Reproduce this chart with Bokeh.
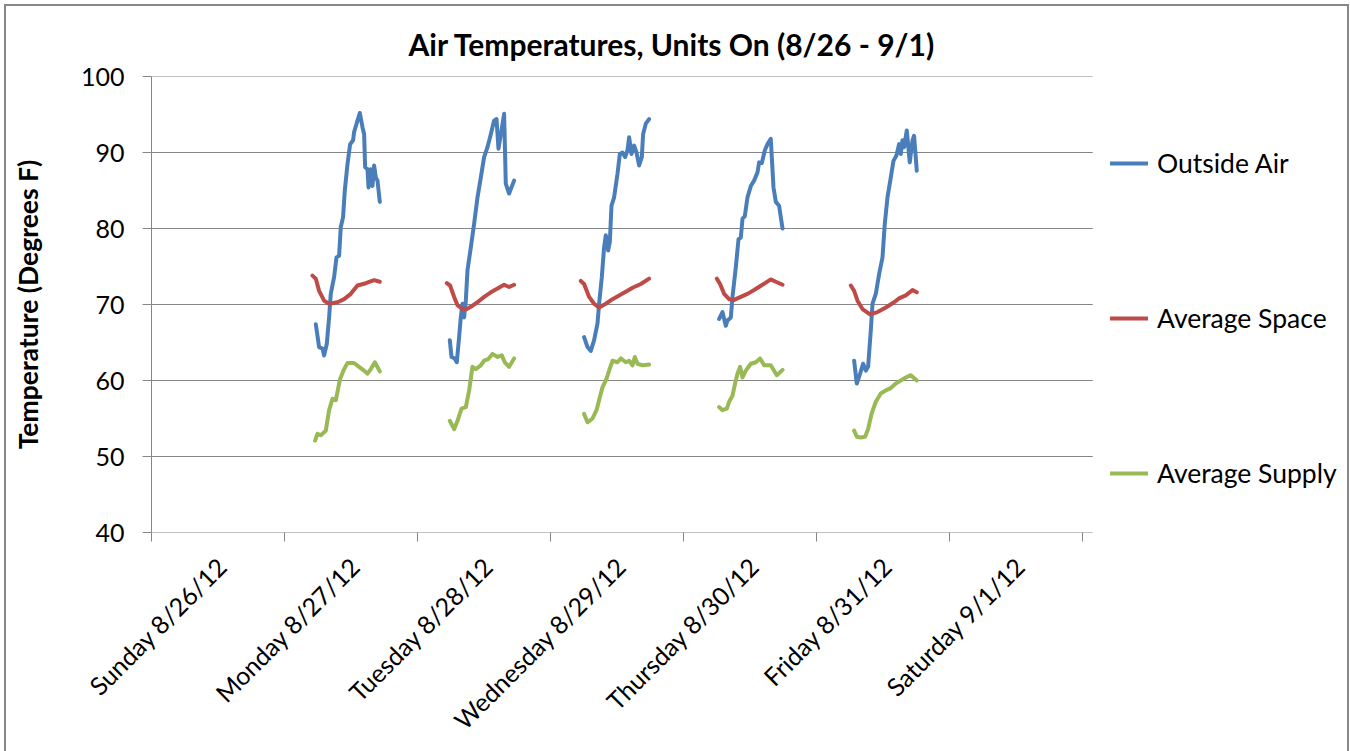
import math
from bokeh.plotting import figure
from bokeh.models import FixedTicker, Legend, LegendItem, Range1d
from bokeh.embed import file_html
from bokeh.resources import INLINE

TITLE = "Air Temperatures, Units On (8/26 - 9/1)"
Y_LABEL = "Temperature (Degrees F)"
DAY_LABELS = ["Sunday 8/26/12", "Monday 8/27/12", "Tuesday 8/28/12",
              "Wednesday 8/29/12", "Thursday 8/30/12", "Friday 8/31/12",
              "Saturday 9/1/12"]
Y_TICKS = [40, 50, 60, 70, 80, 90, 100]
SERIES_NAMES = ["Outside Air", "Average Space", "Average Supply"]

# hours since Sunday 8/26/12 00:00
outside_air_hours = [
    29.65, 30.24, 30.86, 31.15, 31.63, 32.05, 32.35, 32.95, 33.38, 33.85, 34.16, 34.57, 34.88,
    35.37, 35.84, 36.38, 36.56, 37.17, 37.59, 38.08, 38.37, 38.55, 38.98, 39.16, 39.57, 39.88,
    40.17, 40.48, 40.78, 41.20,
    53.83, 54.14, 54.73, 55.09, 55.51, 55.81, 56.12, 56.41, 56.72, 57.02, 57.62, 58.21, 58.83,
    59.42, 60.02, 60.63, 61.23, 61.82, 62.26, 62.61, 63.16, 63.63, 63.93, 64.53, 65.43,
    78.06, 78.68, 79.27, 79.87, 80.48, 80.77, 81.26, 81.67, 81.98, 82.40, 82.70, 83.01, 83.48,
    84.09, 84.51, 84.99, 85.46, 85.89, 86.19, 86.62, 87.09, 87.52, 87.99, 88.48, 88.71, 89.20,
    89.79,
    102.43, 103.04, 103.63, 103.94, 104.54, 104.84, 105.44, 105.93, 106.34, 106.65, 107.06,
    107.55, 108.15, 108.74, 109.36, 109.65, 110.13, 110.68, 111.16, 111.75, 112.24, 112.66,
    113.25, 113.87,
    126.79, 127.27, 127.87, 128.41, 128.90, 129.31, 129.80, 130.11, 130.70, 131.30, 131.91,
    132.32, 132.81, 133.40, 133.89, 134.43, 134.90, 135.21, 135.51, 135.80, 136.29, 136.83,
    137.32, 137.61, 138.10,
]
outside_air_temp = [
    67.4, 64.4, 64.2, 63.3, 64.8, 68.3, 71.4, 73.6, 76.2, 76.4, 80.2, 81.5, 85.0,
    88.5, 91.1, 91.6, 92.7, 94.2, 95.2, 93.3, 92.4, 88.1, 87.8, 85.4, 87.8, 85.6,
    88.3, 86.7, 86.3, 83.5,
    65.3, 63.1, 62.9, 62.4, 65.7, 68.3, 70.1, 68.3, 70.5, 74.5, 77.5, 80.6, 84.1,
    86.7, 89.4, 90.7, 92.4, 94.2, 94.4, 90.5, 92.9, 95.1, 85.9, 84.6, 86.3,
    65.7, 64.4, 63.9, 65.3, 67.5, 70.1, 73.6, 77.5, 79.1, 77.1, 78.2, 83.0, 84.1,
    87.2, 89.8, 90.0, 89.4, 90.3, 92.0, 89.8, 90.9, 90.0, 88.3, 89.4, 92.4, 93.8,
    94.4,
    68.1, 69.0, 67.2, 67.9, 68.3, 71.0, 74.9, 78.6, 78.8, 81.3, 81.6,
    84.1, 85.6, 86.3, 87.4, 88.7, 88.6, 90.3, 91.1, 91.8, 85.4, 83.5,
    83.0, 80.0,
    62.6, 59.6, 60.9, 62.2, 61.3, 61.8, 66.6, 70.1, 71.4, 74.0, 76.2,
    80.6, 84.1, 86.7, 88.9, 89.6, 91.1, 89.8, 91.6, 90.7, 92.9, 88.7,
    91.6, 92.2, 87.6,
]

average_space_hours = [
    29.05, 29.65, 30.24, 31.15, 32.05, 33.56, 34.76, 35.96, 37.17, 38.67, 40.17, 41.20,
    53.29, 53.88, 54.61, 55.22, 56.12, 56.90, 57.62, 58.83, 60.02, 61.23, 62.44, 63.63,
    64.53, 65.43,
    77.47, 78.06, 78.97, 79.87, 80.77, 81.98, 83.19, 84.69, 85.89, 86.80, 88.30, 89.79,
    102.01, 102.60, 103.33, 104.23, 105.13, 106.34, 107.55, 108.74, 110.25, 111.75, 112.66,
    113.87,
    126.19, 126.79, 127.40, 128.30, 129.67, 131.01, 132.51, 134.01, 134.90, 136.11, 137.32,
    138.10,
]
average_space_temp = [
    73.8, 73.4, 71.8, 70.5, 70.1, 70.3, 70.7, 71.4, 72.5, 72.8, 73.2, 73.0,
    72.8, 72.5, 71.0, 69.9, 69.4, 69.4, 69.7, 70.3, 71.0, 71.6, 72.1, 72.6,
    72.3, 72.6,
    73.1, 72.7, 71.0, 70.1, 69.6, 70.1, 70.7, 71.3, 71.8, 72.2, 72.7, 73.4,
    73.4, 72.7, 71.4, 70.7, 70.6, 71.0, 71.4, 71.9, 72.6, 73.3, 73.0,
    72.6,
    72.5, 71.8, 70.5, 69.4, 68.7, 69.0, 69.6, 70.3, 70.8, 71.2, 71.9,
    71.6,
]

average_supply_hours = [
    29.52, 29.95, 30.55, 31.45, 32.05, 32.66, 33.26, 34.03, 34.76, 35.37, 36.56, 37.46,
    38.37, 38.98, 39.57, 40.30, 41.20,
    53.83, 54.61, 55.22, 55.94, 56.72, 57.32, 57.92, 58.52, 59.42, 60.02, 60.74, 61.53,
    62.44, 63.21, 63.75, 64.53, 65.43,
    78.06, 78.68, 79.58, 80.30, 80.77, 81.38, 82.10, 82.57, 83.19, 84.09, 84.69, 85.59,
    86.19, 86.80, 87.21, 87.70, 88.60, 89.79,
    102.43, 103.04, 103.81, 104.23, 104.84, 105.31, 105.74, 106.22, 106.65, 107.24, 108.15,
    109.05, 109.82, 110.55, 111.75, 112.84, 113.87,
    126.79, 127.27, 127.99, 128.77, 129.31, 129.93, 130.70, 131.60, 132.51, 133.40, 134.31,
    135.21, 136.11, 137.02, 138.10,
]
average_supply_temp = [
    52.1, 53.0, 52.8, 53.4, 56.1, 57.6, 57.4, 60.2, 61.5, 62.3, 62.3, 61.8,
    61.3, 60.9, 61.5, 62.4, 61.2,
    54.7, 53.6, 54.7, 56.3, 56.5, 58.7, 61.8, 61.5, 62.0, 62.6, 62.8, 63.5,
    63.1, 63.3, 62.4, 61.8, 62.9,
    55.6, 54.5, 55.0, 56.1, 57.4, 59.1, 60.2, 61.3, 62.6, 62.4, 62.9, 62.4,
    62.6, 62.0, 63.1, 62.2, 62.0, 62.1,
    56.5, 56.1, 56.3, 57.2, 58.0, 59.6, 60.9, 61.8, 60.4, 61.3, 62.2,
    62.4, 62.9, 62.0, 62.0, 60.7, 61.4,
    53.4, 52.6, 52.5, 52.6, 53.6, 55.6, 57.2, 58.3, 58.7, 59.0, 59.6,
    60.0, 60.4, 60.7, 60.0,
]

COLORS = ["#4A7EBB", "#BE4B48", "#98B954"]
FONT = "Lato"
GRAY = "#868686"
N_DAYS = len(DAY_LABELS)
GRID_END = 7.077          # plot area ends slightly past the last day boundary
X_VIEW_END = 8.9925       # extra room on the right for the legend


def split_days(hours, temps):
    """Convert hours to days and break the line between separate days."""
    xs, ys = [], []
    prev = None
    for h, t in zip(hours, temps):
        if prev is not None and h - prev > 6:
            xs.append(float("nan"))
            ys.append(float("nan"))
        xs.append(h / 24.0)
        ys.append(t)
        prev = h
    return xs, ys


p = figure(width=1341, height=745, output_backend="svg", toolbar_location=None,
           x_range=Range1d(0, X_VIEW_END), y_range=Range1d(40, 100),
           min_border_left=145, min_border_right=0, min_border_top=70,
           min_border_bottom=219,
           styles={"margin-left": "6px", "margin-top": "6px", "margin-bottom": "-10px",
                   "outline": "2px solid #878787"})
p.outline_line_color = None
p.background_fill_color = "white"
p.border_fill_color = "white"

p.title.text = TITLE
p.title.align = "left"
p.title.offset = 257
p.title.text_font = FONT
p.title.text_font_style = "bold"
p.title.text_font_size = "30px"
p.title.text_color = "black"
p.title.standoff = 30

# horizontal gridlines (the lowest one doubles as the x axis line)
p.segment(x0=[0] * len(Y_TICKS), x1=[GRID_END] * len(Y_TICKS), y0=Y_TICKS, y1=Y_TICKS,
          line_color=GRAY, line_width=1)

renderers = []
for hrs, tmp, col in [(outside_air_hours, outside_air_temp, COLORS[0]),
                      (average_space_hours, average_space_temp, COLORS[1]),
                      (average_supply_hours, average_supply_temp, COLORS[2])]:
    xs, ys = split_days(hrs, tmp)
    r = p.line(xs, ys, line_color=col, line_width=4, line_join="round", line_cap="round")
    renderers.append(r)

# x axis: tick marks at day boundaries, labels near the centre of each day
label_pos = [i + 0.53 for i in range(N_DAYS)]
xax = p.xaxis[0]
xax.ticker = FixedTicker(ticks=label_pos, minor_ticks=list(range(N_DAYS + 1)))
xax.major_label_overrides = {pos: lab for pos, lab in zip(label_pos, DAY_LABELS)}
xax.major_tick_line_color = None
xax.minor_tick_line_color = GRAY
xax.minor_tick_out = 9
xax.minor_tick_in = 0
xax.axis_line_color = None
xax.major_label_orientation = math.pi / 4
xax.major_label_text_font = FONT
xax.major_label_text_font_size = "25px"
xax.major_label_text_color = "black"
xax.major_label_standoff = 20

yax = p.yaxis[0]
yax.ticker = FixedTicker(ticks=Y_TICKS)
yax.axis_line_color = GRAY
yax.major_tick_line_color = GRAY
yax.major_tick_out = 9
yax.major_tick_in = 0
yax.minor_tick_line_color = None
yax.major_label_text_font = FONT
yax.major_label_text_font_size = "25px"
yax.major_label_text_color = "black"
yax.major_label_standoff = 18
yax.axis_label = Y_LABEL
yax.axis_label_text_font = FONT
yax.axis_label_text_font_style = "bold"
yax.axis_label_text_font_size = "26.5px"
yax.axis_label_text_color = "black"
yax.axis_label_standoff = 34

p.xgrid.grid_line_color = None
p.ygrid.grid_line_color = None

legend = Legend(items=[LegendItem(label=n, renderers=[r]) for n, r in zip(SERIES_NAMES, renderers)],
                location=(959, 42), orientation="vertical",
                label_text_font=FONT, label_text_font_size="26.5px", label_text_color="black",
                glyph_width=38, glyph_height=34, label_height=34, spacing=121,
                label_standoff=9, padding=0, margin=0,
                border_line_color=None, background_fill_alpha=0)
p.add_layout(legend)

open("out.html", "w").write(file_html(p, INLINE))
